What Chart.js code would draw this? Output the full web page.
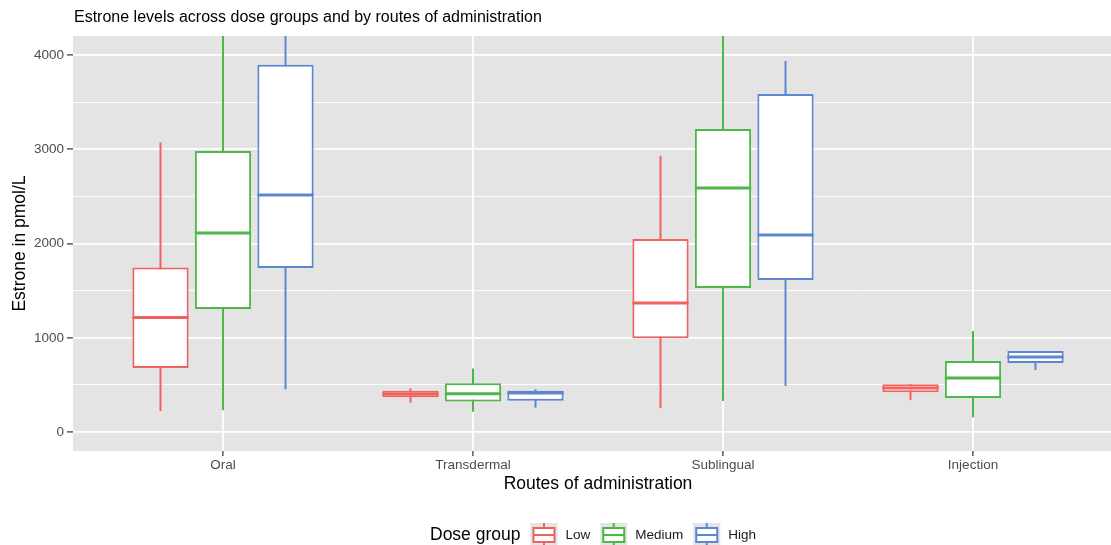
<!DOCTYPE html>
<html>
<head>
<meta charset="utf-8">
<title>Estrone levels</title>
<script src="https://cdn.jsdelivr.net/npm/chart.js@4.4.0/dist/chart.umd.min.js"></script>
<style>
  html, body { margin: 0; padding: 0; background: #fff; overflow: hidden; }
  canvas { display: block; }
</style>
</head>
<body>
<canvas id="chart" width="1130" height="545"></canvas>
<script>
const routes = ['Oral', 'Transdermal', 'Sublingual', 'Injection'];
const doses = ['Low', 'Medium', 'High'];
const colors = ['#F0625E', '#4DB848', '#5A87CF'];
const yTicks = [0, 500, 1000, 1500, 2000, 2500, 3000, 3500, 4000];

// box summaries (whisker ends, quartiles, median), one value per route
const lowMin = [225, 312, 255, 340];
const lowQ1 = [680, 369, 995, 424];
const lowMed = [1215, 404, 1368, 467];
const lowQ3 = [1745, 439, 2048, 509];
const lowMax = [3070, 464, 2930, 509];

const medMin = [233, 216, 329, 159];
const medQ1 = [1305, 326, 1528, 361];
const medMed = [2111, 407, 2589, 573];
const medQ3 = [2981, 517, 3215, 753];
const medMax = [4800, 676, 5000, 1072];

const highMin = [456, 259, 488, 658];
const highQ1 = [1740, 333, 1613, 732];
const highMed = [2515, 415, 2090, 796];
const highQ3 = [3894, 439, 3586, 859];
const highMax = [5600, 454, 3936, 859];

const stats = [
  { min: lowMin, q1: lowQ1, med: lowMed, q3: lowQ3, max: lowMax },
  { min: medMin, q1: medQ1, med: medMed, q3: medQ3, max: medMax },
  { min: highMin, q1: highQ1, med: highMed, q3: highQ3, max: highMax }
];

const FONT = "'Liberation Sans', Arial, Helvetica, sans-serif";
Chart.defaults.font.family = FONT;

const panelGrey = '#E4E4E4';

// panel background, whiskers, medians, title and legend
const boxPlot = {
  id: 'boxPlot',
  beforeDraw(chart) {
    const { ctx, chartArea: a } = chart;
    ctx.save();
    ctx.fillStyle = panelGrey;
    ctx.fillRect(a.left, a.top, a.right - a.left, a.bottom - a.top);
    ctx.restore();
  },
  beforeDatasetsDraw(chart) {
    const { ctx, chartArea: a } = chart;
    const y = chart.scales.y;
    ctx.save();
    ctx.beginPath();
    ctx.rect(a.left, a.top, a.right - a.left, a.bottom - a.top);
    ctx.clip();
    stats.forEach((s, i) => {
      const meta = chart.getDatasetMeta(i);
      meta.data.forEach((bar, j) => {
        ctx.strokeStyle = colors[i];
        ctx.lineWidth = 2;
        ctx.beginPath();
        ctx.moveTo(bar.x, y.getPixelForValue(s.min[j]));
        ctx.lineTo(bar.x, y.getPixelForValue(s.max[j]));
        ctx.stroke();
      });
    });
    ctx.restore();
  },
  afterDatasetsDraw(chart) {
    const { ctx } = chart;
    const y = chart.scales.y;
    ctx.save();
    stats.forEach((s, i) => {
      const meta = chart.getDatasetMeta(i);
      meta.data.forEach((bar, j) => {
        const py = y.getPixelForValue(s.med[j]);
        ctx.strokeStyle = colors[i];
        ctx.lineWidth = 3;
        ctx.beginPath();
        ctx.moveTo(bar.x - bar.width / 2, py);
        ctx.lineTo(bar.x + bar.width / 2, py);
        ctx.stroke();
      });
    });
    ctx.restore();
  },
  afterDraw(chart) {
    const { ctx } = chart;
    ctx.save();
    // title
    ctx.fillStyle = '#000';
    ctx.font = '16px ' + FONT;
    ctx.textBaseline = 'middle';
    ctx.textAlign = 'left';
    ctx.fillText('Estrone levels across dose groups and by routes of administration', 74, 18);

    // legend
    const ly = 535;
    let x = 430;
    ctx.font = '17.5px ' + FONT;
    ctx.fillText('Dose group', x, ly);
    x += ctx.measureText('Dose group').width + 10;
    ctx.font = '13.5px ' + FONT;
    doses.forEach((d, i) => {
      const kw = 27, kh = 24;
      ctx.fillStyle = panelGrey;
      ctx.fillRect(x, ly - kh / 2, kw, kh);
      ctx.strokeStyle = colors[i];
      ctx.lineWidth = 2;
      ctx.beginPath();
      ctx.moveTo(x + kw / 2, ly - kh / 2);
      ctx.lineTo(x + kw / 2, ly - 7);
      ctx.moveTo(x + kw / 2, ly + 7);
      ctx.lineTo(x + kw / 2, ly + kh / 2);
      ctx.stroke();
      ctx.fillStyle = '#fff';
      ctx.fillRect(x + 3, ly - 7, kw - 6, 14);
      ctx.strokeRect(x + 3, ly - 7, kw - 6, 14);
      ctx.beginPath();
      ctx.moveTo(x + 3, ly);
      ctx.lineTo(x + kw - 3, ly);
      ctx.stroke();
      x += kw + 8;
      ctx.fillStyle = '#1A1A1A';
      ctx.fillText(d, x, ly);
      x += ctx.measureText(d).width + 10;
    });
    ctx.restore();
  }
};

const datasets = doses.map((d, i) => ({
  label: d,
  data: routes.map((r, j) => ({ x: j + 1, y: [stats[i].q1[j], stats[i].q3[j]] })),
  backgroundColor: '#FFFFFF',
  borderColor: colors[i],
  borderWidth: 2,
  borderSkipped: false,
  categoryPercentage: 0.75,
  barPercentage: 0.9
}));

const chart = new Chart(document.getElementById('chart').getContext('2d'), {
  type: 'bar',
  data: { datasets: datasets },
  plugins: [boxPlot],
  options: {
    responsive: false,
    animation: false,
    devicePixelRatio: 1,
    layout: { padding: { top: 36, left: 0, right: 7, bottom: 50 } },
    plugins: {
      legend: { display: false },
      tooltip: { enabled: false },
      title: { display: false }
    },
    scales: {
      x: {
        type: 'linear',
        min: 0.4,
        max: 4.6,
        offset: false,
        afterBuildTicks: s => { s.ticks = routes.map((r, i) => ({ value: i + 1 })); },
        afterFit: s => { s.height = 44; },
        ticks: {
          callback: v => routes[v - 1],
          font: { size: 13.5 },
          color: '#4D4D4D',
          padding: 1,
          maxRotation: 0,
          autoSkip: false
        },
        grid: { offset: false, color: '#FFFFFF', lineWidth: 1.8, tickColor: '#333333', tickLength: 5, tickWidth: 1.2 },
        border: { display: false },
        title: {
          display: true,
          text: 'Routes of administration',
          font: { size: 17.5 },
          color: '#000',
          padding: { top: 0, bottom: 0 }
        }
      },
      y: {
        min: -200,
        max: 4200,
        afterBuildTicks: s => { s.ticks = yTicks.map(v => ({ value: v })); },
        afterFit: s => { s.width = 73; },
        ticks: {
          callback: v => (v % 1000 === 0 ? String(v) : ''),
          font: { size: 13.5 },
          color: '#4D4D4D',
          padding: 3
        },
        grid: {
          color: '#FFFFFF',
          lineWidth: c => (c.tick && c.tick.value % 1000 === 0 ? 1.8 : 0.9),
          tickColor: c => (c.tick && c.tick.value % 1000 === 0 ? '#333333' : 'rgba(0,0,0,0)'),
          tickLength: 6,
          tickWidth: 1.2
        },
        border: { display: false },
        title: {
          display: true,
          text: 'Estrone in pmol/L',
          font: { size: 17.5 },
          color: '#000',
          padding: { top: 9.5, bottom: 0 }
        }
      }
    }
  }
});
</script>
</body>
</html>
